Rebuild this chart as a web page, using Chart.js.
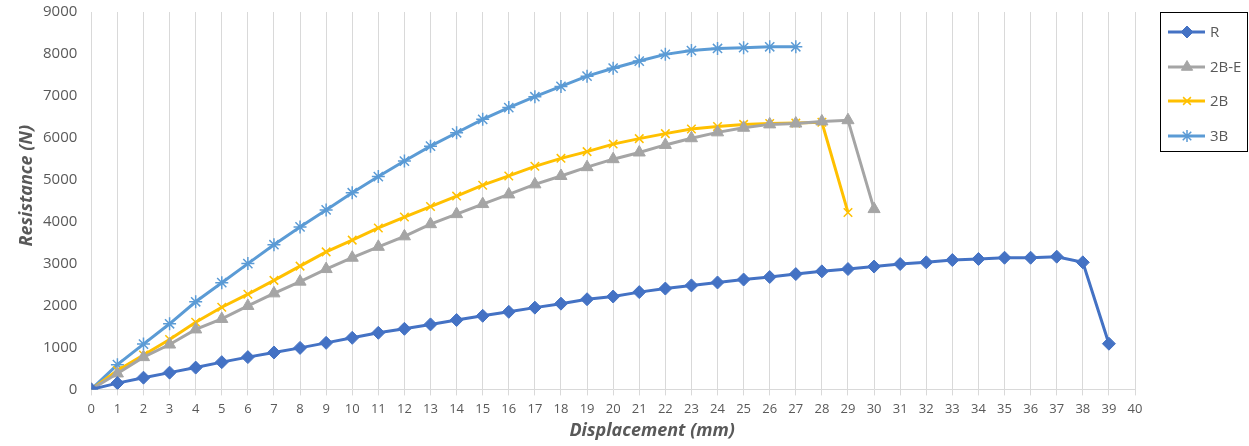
<!DOCTYPE html>
<html>
<head>
<meta charset="utf-8">
<script src="https://cdn.jsdelivr.net/npm/chart.js@4.4.1/dist/chart.umd.min.js"></script>
<style>
  html, body { margin: 0; padding: 0; background: #fff; }
  #wrap { position: relative; width: 1249px; height: 446px; }
</style>
</head>
<body>
<div id="wrap"><canvas id="chart" width="1249" height="446"></canvas></div>
<script>
// displacement (mm) at each recorded step
const displacement = [0, 1, 2, 3, 4, 5, 6, 7, 8, 9, 10, 11, 12, 13, 14, 15, 16, 17, 18, 19,
  20, 21, 22, 23, 24, 25, 26, 27, 28, 29, 30, 31, 32, 33, 34, 35, 36, 37, 38, 39];

// resistance (N) per series
const seriesNames = ['R', '2B-E', '2B', '3B'];
const rValues = [0, 150, 280, 400, 520, 650, 770, 880, 990, 1110, 1230, 1350, 1445, 1550, 1655, 1755,
  1850, 1950, 2045, 2150, 2215, 2320, 2405, 2480, 2550, 2620, 2680, 2750, 2815, 2870, 2930,
  2990, 3030, 3085, 3110, 3140, 3140, 3165, 3030, 1090];
const b2eValues = [0, 380, 770, 1070, 1430, 1680, 1990, 2290, 2570, 2870, 3140, 3400, 3650, 3940,
  4180, 4420, 4650, 4890, 5090, 5300, 5490, 5650, 5830, 5990, 6130, 6240, 6320, 6340, 6390, 6420, 4300];
const b2Values = [0, 450, 820, 1190, 1600, 1960, 2270, 2600, 2940, 3280, 3560, 3850, 4110, 4360,
  4610, 4870, 5090, 5320, 5510, 5670, 5850, 5980, 6100, 6210, 6270, 6320, 6340, 6350, 6370, 4220];
const b3Values = [0, 590, 1080, 1565, 2090, 2545, 3000, 3450, 3875, 4280, 4690, 5075, 5445, 5800,
  6120, 6440, 6720, 6980, 7225, 7470, 7660, 7830, 7990, 8080, 8130, 8150, 8170, 8170];

const yTicksMax = 9000;
const xTicksMax = 40;
const xTitle = 'Displacement (mm)';
const yTitle = 'Resistance (N)';

function pairs(vals) {
  return vals.map((v, i) => ({ x: displacement[i], y: v }));
}

const colors = ['#4472C4', '#A5A5A5', '#FFC000', '#5B9BD5'];
const styles = ['rectRot', 'triangle', 'crossRot', 'star'];
const radii = [6.5, 7, 6, 6.5];
const allValues = [rValues, b2eValues, b2Values, b3Values];

const datasets = seriesNames.map((name, i) => ({
  label: name,
  data: pairs(allValues[i]),
  borderColor: colors[i],
  backgroundColor: colors[i],
  borderWidth: 3,
  pointStyle: styles[i],
  pointRadius: radii[i],
  pointBorderWidth: (i >= 2) ? 1.5 : 1,
  pointBorderColor: colors[i],
  pointBackgroundColor: colors[i],
  tension: 0,
  fill: false,
}));

const textColor = '#595959';
const titleFont = 'italic bold 18px "Open Sans"';

// axis titles sit a little off-centre in the original, so draw them by hand
const axisTitles = {
  id: 'axisTitles',
  afterDraw(chart) {
    const ctx = chart.ctx;
    const area = chart.chartArea;
    ctx.save();
    ctx.fillStyle = textColor;
    ctx.font = titleFont;
    ctx.textAlign = 'center';
    ctx.textBaseline = 'middle';
    ctx.fillText(xTitle, (area.left + area.right) / 2 + 39, 431);
    ctx.translate(27, (area.top + area.bottom) / 2 - 15);
    ctx.rotate(-Math.PI / 2);
    ctx.fillText(yTitle, 0, 0);
    ctx.restore();
  }
};

// legend drawn as a boxed list on the right, like the original
const boxLegend = {
  id: 'boxLegend',
  afterDraw(chart) {
    const ctx = chart.ctx;
    ctx.save();
    ctx.strokeStyle = '#000';
    ctx.lineWidth = 1;
    ctx.strokeRect(1160.5, 12.5, 87, 139);
    const rows = [32, 67, 101, 136];
    chart.data.datasets.forEach((ds, i) => {
      const y = rows[i];
      ctx.strokeStyle = ds.borderColor;
      ctx.lineWidth = 3;
      ctx.beginPath();
      ctx.moveTo(1168, y);
      ctx.lineTo(1205, y);
      ctx.stroke();
      ctx.fillStyle = ds.backgroundColor;
      ctx.strokeStyle = ds.borderColor;
      ctx.lineWidth = ds.pointBorderWidth;
      Chart.helpers.drawPoint(ctx, { pointStyle: ds.pointStyle, radius: ds.pointRadius - 0.5, rotation: 0, borderWidth: ds.pointBorderWidth }, 1187, y);
      ctx.fillStyle = textColor;
      ctx.font = '15px "Open Sans"';
      ctx.textBaseline = 'middle';
      ctx.textAlign = 'left';
      ctx.fillText(ds.label, 1210, y + 1);
    });
    ctx.restore();
  }
};

new Chart(document.getElementById('chart'), {
  type: 'line',
  data: { datasets },
  plugins: [axisTitles, boxLegend],
  options: {
    responsive: false,
    animation: false,
    layout: { padding: { left: 40, right: 114, top: 0, bottom: 23 } },
    plugins: {
      legend: { display: false },
      tooltip: { enabled: false },
    },
    scales: {
      x: {
        type: 'linear',
        min: 0,
        max: xTicksMax,
        ticks: {
          stepSize: 1,
          autoSkip: false,
          maxRotation: 0,
          color: textColor,
          font: { family: 'Open Sans', size: 13 },
          padding: 6,
        },
        grid: { color: '#d9d9d9', lineWidth: 1, tickLength: 6 },
        border: { color: '#d9d9d9' },
        title: { display: false },
      },
      y: {
        min: 0,
        max: yTicksMax,
        ticks: {
          stepSize: 1000,
          color: textColor,
          font: { family: 'Open Sans', size: 15 },
          padding: 3,
          callback: (v) => String(v),
        },
        grid: { display: true, drawOnChartArea: false, color: 'rgba(0,0,0,0)', tickLength: 11 },
        border: { display: false },
        title: { display: false },
      },
    },
  },
});
</script>
</body>
</html>
